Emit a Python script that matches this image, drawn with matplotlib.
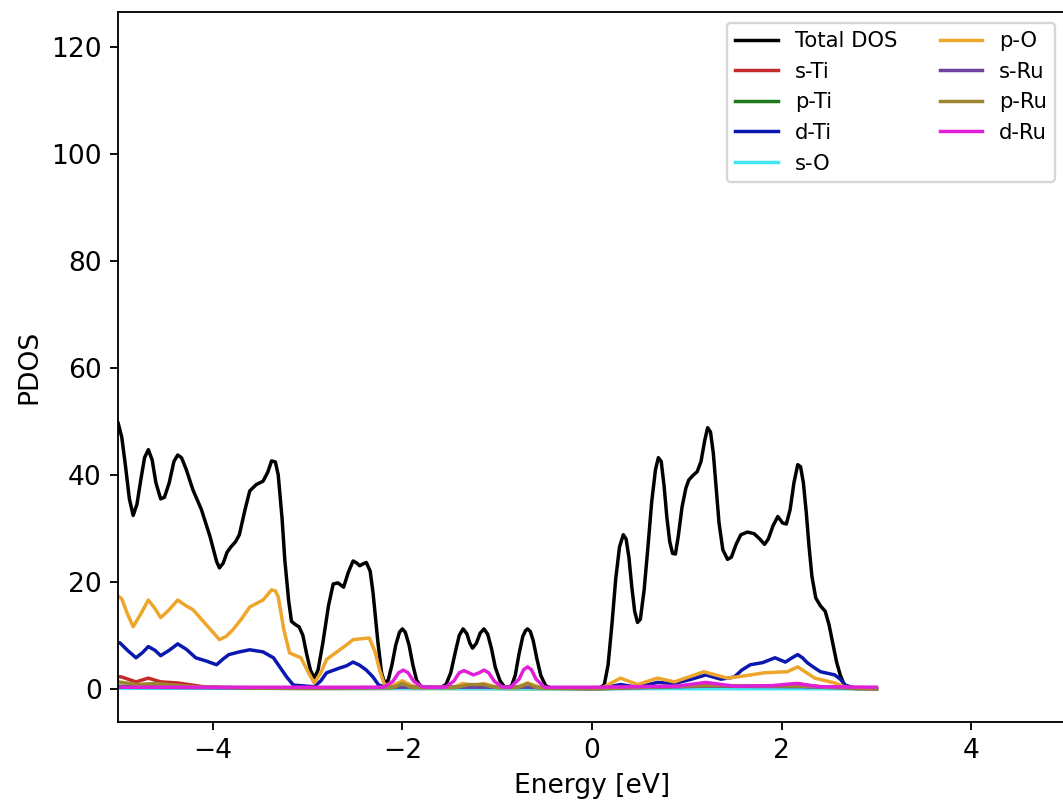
import numpy as np
import matplotlib.pyplot as plt

plt.rcParams['font.size'] = 11.5

# total DOS
e_tot = [-5.04, -5.00, -4.96, -4.92, -4.88, -4.84, -4.80, -4.76, -4.72, -4.68, -4.64,
         -4.60, -4.55, -4.51, -4.46, -4.41, -4.37, -4.33, -4.28, -4.21, -4.12, -4.03,
         -3.96, -3.93, -3.89, -3.85, -3.81, -3.76, -3.72, -3.66, -3.61, -3.54, -3.47,
         -3.42, -3.38, -3.34, -3.31, -3.27, -3.24, -3.20, -3.17, -3.12, -3.09, -3.05,
         -3.01, -2.97, -2.93, -2.89, -2.84, -2.78, -2.73, -2.68, -2.62, -2.57, -2.52,
         -2.48, -2.45, -2.41, -2.38, -2.34, -2.31, -2.26, -2.22, -2.19, -2.15, -2.11,
         -2.07, -2.03, -2.00, -1.97, -1.93, -1.89, -1.85, -1.80, -1.60, -1.54, -1.49,
         -1.44, -1.40, -1.36, -1.32, -1.29, -1.26, -1.22, -1.18, -1.14, -1.10, -1.06,
         -1.02, -0.97, -0.92, -0.85, -0.81, -0.77, -0.73, -0.70, -0.68, -0.65, -0.62,
         -0.58, -0.54, -0.49, -0.44, 0.00, 0.09, 0.13, 0.17, 0.21, 0.25, 0.29, 0.33,
         0.36, 0.39, 0.42, 0.45, 0.48, 0.51, 0.55, 0.59, 0.63, 0.67, 0.70, 0.73,
         0.76, 0.79, 0.82, 0.85, 0.88, 0.91, 0.95, 0.99, 1.02, 1.06, 1.11, 1.15,
         1.19, 1.22, 1.25, 1.28, 1.31, 1.34, 1.38, 1.43, 1.47, 1.52, 1.57, 1.64,
         1.71, 1.77, 1.82, 1.86, 1.91, 1.96, 2.01, 2.05, 2.09, 2.13, 2.17, 2.20,
         2.23, 2.26, 2.29, 2.32, 2.36, 2.41, 2.46, 2.50, 2.54, 2.58, 2.62, 2.66,
         2.70, 2.80, 3.00]
dos_tot = [50.6, 49.8, 47.0, 41.5, 35.5, 32.4, 34.5, 39.0, 43.2, 44.7, 42.8,
           38.5, 35.5, 35.8, 38.5, 42.5, 43.7, 43.2, 41.0, 37.2, 33.5, 28.5,
           23.8, 22.6, 23.5, 25.5, 26.5, 27.5, 28.8, 33.5, 37.0, 38.2, 38.8,
           40.5, 42.6, 42.4, 40.0, 32.0, 24.0, 16.5, 12.6, 11.9, 11.6, 10.0,
           6.5, 3.5, 2.0, 3.5, 8.5, 15.5, 19.6, 19.8, 19.0, 21.8, 23.9,
           23.5, 23.0, 23.4, 23.6, 22.0, 18.0, 9.0, 3.0, 1.2, 1.6, 4.5,
           8.2, 10.6, 11.2, 10.6, 8.2, 4.5, 1.6, 0.3, 0.2, 0.8, 3.0,
           7.0, 10.0, 11.2, 10.3, 8.6, 7.6, 8.5, 10.4, 11.2, 10.2, 7.5,
           4.0, 1.5, 0.3, 0.5, 2.5, 6.5, 9.8, 10.9, 11.2, 10.7, 9.0,
           5.5, 2.5, 0.6, 0.2, 0.1, 0.2, 0.8, 4.5, 12.0, 20.5, 26.5, 28.8,
           28.0, 24.5, 19.0, 14.5, 12.4, 13.0, 18.5, 26.5, 35.0, 41.0, 43.2, 42.5,
           38.0, 32.0, 27.5, 25.3, 25.2, 28.5, 34.0, 37.5, 39.0, 39.8, 40.6, 42.5,
           46.5, 48.8, 48.0, 44.0, 37.5, 31.0, 26.0, 24.2, 24.6, 27.0, 28.8, 29.3,
           29.0, 28.0, 27.0, 28.0, 30.5, 32.2, 31.0, 30.8, 33.5, 38.5, 41.9, 41.5,
           38.5, 33.0, 26.5, 21.0, 17.0, 15.5, 14.5, 12.0, 8.5, 5.0, 2.5, 0.8,
           0.2, 0.0, 0.0]

# s-Ti
e_sti = [-5.04, -4.96, -4.81, -4.68, -4.55, -4.37, -4.1, -3.8, -3.0, 1.8, 2.05, 2.17, 2.3, 2.6, 3.0]
dos_sti = [2.4, 2.2, 1.3, 2.0, 1.3, 1.1, 0.4, 0.15, 0.05, 0.2, 0.6, 1.0, 0.6, 0.1, 0.0]

# p-Ti
e_pti = [-5.04, -4.5, -3.5, -2.0, 0.0, 1.2, 2.2, 3.0]
dos_pti = [0.5, 0.3, 0.2, 0.1, 0.0, 0.3, 0.4, 0.0]

# d-Ti
e_dti = [-5.04, -4.98, -4.90, -4.81, -4.74, -4.68, -4.61, -4.55, -4.46, -4.37, -4.28,
         -4.18, -4.07, -3.96, -3.89, -3.83, -3.72, -3.61, -3.47, -3.36, -3.29, -3.22,
         -3.15, -3.01, -2.93, -2.86, -2.80, -2.66, -2.59, -2.52, -2.45, -2.38, -2.31,
         -2.25, -2.15, -1.5, -0.5, 0.1, 0.30, 0.48, 0.69, 0.87, 1.05, 1.20, 1.36,
         1.50, 1.58, 1.67, 1.80, 1.93, 2.04, 2.11, 2.17, 2.22, 2.27, 2.34, 2.41,
         2.56, 2.62, 2.67, 2.80, 3.00]
dos_dti = [8.8, 8.6, 7.2, 5.8, 6.8, 7.9, 7.2, 6.2, 7.2, 8.4, 7.4,
           5.8, 5.2, 4.5, 5.6, 6.4, 6.9, 7.3, 6.9, 5.8, 4.0, 2.2,
           0.7, 0.5, 0.4, 1.5, 3.0, 3.9, 4.3, 5.0, 4.4, 3.5, 2.2,
           0.7, 0.2, 0.2, 0.2, 0.1, 0.8, 0.3, 1.2, 1.0, 1.8, 2.6, 1.8,
           2.2, 3.5, 4.5, 4.9, 5.8, 5.0, 5.8, 6.4, 5.8, 4.9, 4.0, 3.2,
           2.6, 1.8, 0.7, 0.0, 0.0]

# s-O
e_so = [-5.04, 3.0]
dos_so = [0.1, 0.0]

# p-O
e_po = [-5.04, -4.96, -4.90, -4.84, -4.76, -4.68, -4.61, -4.55, -4.46, -4.37, -4.28,
        -4.21, -4.07, -3.93, -3.86, -3.79, -3.70, -3.61, -3.47, -3.38, -3.34, -3.31,
        -3.25, -3.19, -3.07, -2.99, -2.93, -2.86, -2.80, -2.66, -2.59, -2.52, -2.35,
        -2.29, -2.24, -2.19, -2.10, -2.00, -1.90, -1.80, -1.45, -1.36, -1.25, -1.14,
        -1.00, -0.80, -0.68, -0.55, -0.40, 0.10, 0.30, 0.48, 0.69, 0.87, 1.05,
        1.18, 1.30, 1.43, 1.60, 1.82, 2.06, 2.17, 2.35, 2.56, 2.66, 2.80, 3.00]
dos_po = [17.9, 16.8, 14.0, 11.6, 14.0, 16.6, 15.0, 13.3, 14.8, 16.6, 15.5,
          14.8, 12.0, 9.2, 9.8, 11.0, 13.0, 15.3, 16.6, 18.5, 18.3, 17.2,
          11.0, 6.7, 5.8, 3.0, 1.1, 3.0, 5.5, 7.3, 8.2, 9.2, 9.5,
          7.0, 3.5, 0.8, 0.6, 1.5, 0.6, 0.2, 0.4, 1.0, 0.6, 1.0,
          0.3, 0.3, 1.1, 0.3, 0.1, 0.1, 2.0, 0.8, 2.0, 1.3, 2.4,
          3.2, 2.6, 2.0, 2.4, 3.0, 3.2, 4.1, 2.0, 1.1, 0.4, 0.0, 0.0]

# s-Ru
e_sru = [-5.04, -3.0, -2.0, -1.25, -0.68, 0.0, 1.2, 2.2, 3.0]
dos_sru = [0.3, 0.1, 0.3, 0.3, 0.3, 0.0, 0.5, 0.4, 0.0]

# p-Ru
e_pru = [-5.04, -4.8, -4.6, -4.2, -3.5, -2.1, -2.0, -1.9, -1.45, -1.3, -1.15,
         -1.0, -0.78, -0.68, -0.58, 0.0, 1.2, 2.2, 3.0]
dos_pru = [1.4, 0.8, 1.0, 0.4, 0.1, 0.2, 1.0, 0.2, 0.2, 0.8, 0.8,
           0.2, 0.2, 1.0, 0.2, 0.0, 0.6, 0.5, 0.0]

# d-Ru
e_dru = [-5.04, -2.20, -2.10, -2.04, -1.99, -1.94, -1.88, -1.78, -1.55, -1.46,
         -1.40, -1.35, -1.30, -1.25, -1.19, -1.14, -1.09, -1.03, -0.94, -0.86,
         -0.77, -0.72, -0.68, -0.64, -0.59, -0.50, 0.0, 0.9, 1.2, 1.5, 1.9,
         2.15, 2.4, 3.0]
dos_dru = [0.3, 0.3, 1.4, 3.0, 3.5, 3.0, 1.4, 0.3, 0.3, 1.4,
           3.0, 3.4, 3.0, 2.6, 3.0, 3.5, 3.0, 1.4, 0.3, 0.3,
           1.8, 3.6, 4.1, 3.6, 1.8, 0.3, 0.3, 0.5, 1.2, 0.5, 0.6,
           1.0, 0.4, 0.3]

series = [
    (e_tot, dos_tot, 'Total DOS', 'black'),
    (e_sti, dos_sti, 's-Ti', '#c42a28'),
    (e_pti, dos_pti, 'p-Ti', '#1c7a1c'),
    (e_dti, dos_dti, 'd-Ti', '#0a18b0'),
    (e_so, dos_so, 's-O', '#3ee6f2'),
    (e_po, dos_po, 'p-O', '#eea52c'),
    (e_sru, dos_sru, 's-Ru', '#7040a0'),
    (e_pru, dos_pru, 'p-Ru', '#9c8530'),
    (e_dru, dos_dru, 'd-Ru', '#e01fd8'),
]

fig = plt.figure(figsize=(1063 / 166, 805 / 166), dpi=166)
ax = fig.add_axes([118 / 1063, 1 - 722 / 805, 948 / 1063, 710 / 805])
for e, d, lab, col in series:
    ax.plot(e, d, color=col, label=lab)

ax.set_xlim(-5, 5)
ax.set_ylim(-6.2, 126.5)
ax.set_xlabel('Energy [eV]')
ax.set_ylabel('PDOS')
ax.legend(ncol=2, fontsize=9.2, loc='upper right')

plt.savefig('out.png', dpi=166)
